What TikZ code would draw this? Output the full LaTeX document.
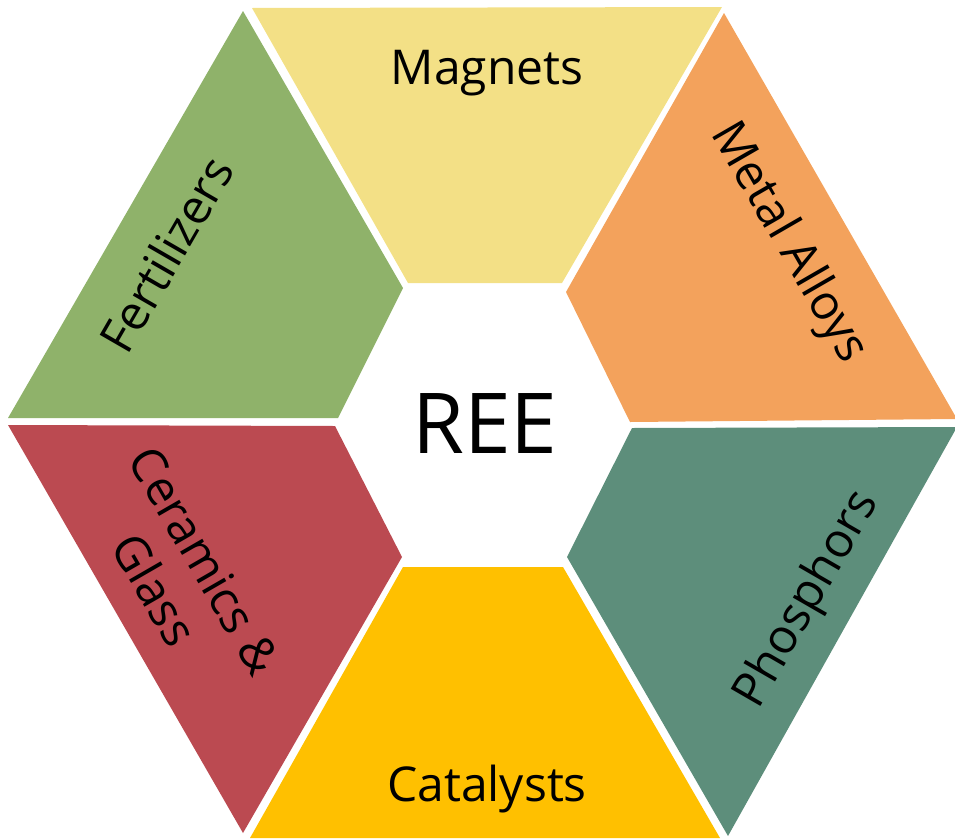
\documentclass[tikz,border=0pt]{standalone}
\usepackage{fontspec}
\setmainfont{Open Sans}
\definecolor{magnetsfill}{RGB}{243,224,134}
\definecolor{alloysfill}{RGB}{243,162,92}
\definecolor{phosphfill}{RGB}{93,142,123}
\definecolor{catalfill}{RGB}{255,192,0}
\definecolor{ceramfill}{RGB}{187,74,81}
\definecolor{fertfill}{RGB}{143,178,106}
\begin{document}
\begin{tikzpicture}[x=1pt,y=-1pt,
  sector/.style={draw=none},
  sectorlabel/.style={font=\fontsize{48}{58}\selectfont, align=center, text=black, inner sep=0pt},
  hub/.style={font=\fontsize{84}{100}\selectfont, text=black, inner sep=0pt}]
\useasboundingbox (0,0) rectangle (955,838);
% six trapezoids around the central hexagon
\fill[sector, magnetsfill] (252,8) -- (722,7) -- (562,283) -- (408,283) -- cycle;
\fill[sector, alloysfill] (724,13) -- (957,419) -- (630,422) -- (566,292) -- cycle;
\fill[sector, phosphfill] (957,427) -- (728,836) -- (567,557) -- (632,428) -- cycle;
\fill[sector, catalfill] (720,838) -- (250,838) -- (403,567) -- (563,567) -- cycle;
\fill[sector, ceramfill] (243,833) -- (8,425) -- (335,426) -- (402,557) -- cycle;
\fill[sector, fertfill] (8,418) -- (243,11) -- (403,288) -- (338,418) -- cycle;
% labels
\node[hub] (ree) at (485,424) {REE};
\node[sectorlabel] (magnets) at (487,73) {Magnets};
\node[sectorlabel] (catalysts) at (487,789) {Catalysts};
\node[sectorlabel, rotate=60] (fertilizers) at (166,254) {Fertilizers};
\node[sectorlabel, rotate=-60] (alloys) at (788,243) {Metal Alloys};
\node[sectorlabel, rotate=60] (phosphors) at (808,600) {Phosphors};
\node[sectorlabel, rotate=-60] (ceramics) at (180,575) {Ceramics \&\\Glass};
\end{tikzpicture}
\end{document}
